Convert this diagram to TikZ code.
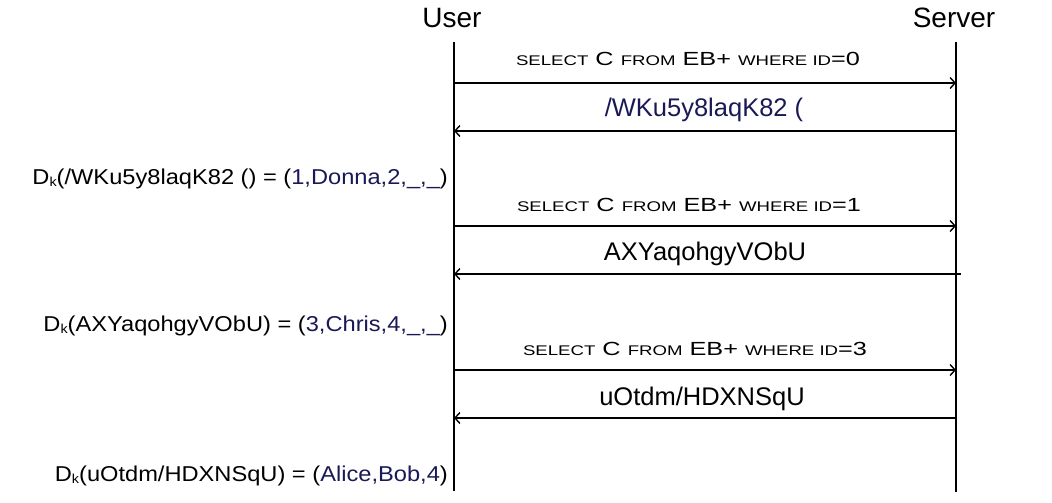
\documentclass[tikz,border=0pt]{standalone}
\usepackage{fontspec}
\usepackage{graphicx}
\setmainfont{Liberation Sans}
\usetikzlibrary{arrows.meta}
\definecolor{navy}{RGB}{25,25,85}
\newcommand\smc[1]{{\fontsize{14}{15}\selectfont #1}}
\newcommand\dk{D\raisebox{-0.25ex}{\fontsize{13}{13}\selectfont k}}
\newcommand\qry[1]{\scalebox{1.33}[1]{\smc{SELECT} C \smc{FROM} EB+ \smc{WHERE ID}=#1}}
\tikzset{
  actor/.style={font=\fontsize{28}{30}\selectfont, anchor=base, inner sep=0pt},
  life/.style={line width=2.4pt},
  msg/.style={line width=2pt, -{Straight Barb[length=5pt,width=11pt,line width=1.4pt]}},
  lbl/.style={font=\fontsize{19}{21}\selectfont, anchor=base, inner sep=0pt},
  reply/.style={font=\fontsize{25.5}{27}\selectfont, anchor=base, inner sep=0pt},
  dec/.style={font=\fontsize{21.5}{23}\selectfont, anchor=base east, inner sep=0pt},
}
\begin{document}
\begin{tikzpicture}[x=1pt,y=-1pt]
\useasboundingbox (0,0) rectangle (1052,503);
\node[actor] (user) at (452,28) {User};
\node[actor] (server) at (954,28) {Server};
\coordinate (ut) at (454,42); \coordinate (ub) at (454,491);
\coordinate (st) at (956,42); \coordinate (sb) at (956,492);
\draw[life] (ut) -- (ub);
\draw[life] (st) -- (sb);
% message endpoints
\coordinate (u1) at (454,83);  \coordinate (s1) at (956,83);
\coordinate (u2) at (454,131); \coordinate (s2) at (956,131);
\coordinate (u3) at (454,226); \coordinate (s3) at (956,226);
\coordinate (u4) at (454,274); \coordinate (s4) at (961,274);
\coordinate (u5) at (454,370); \coordinate (s5) at (956,370);
\coordinate (u6) at (454,418); \coordinate (s6) at (956,418);
\draw[msg] (u1) -- (s1);
\draw[msg] (s2) -- (u2);
\draw[msg] (u3) -- (s3);
\draw[msg] (s4) -- (u4);
\draw[msg] (u5) -- (s5);
\draw[msg] (s6) -- (u6);
% labels
\node[lbl] (l1) at (688,66) {\qry{0}};
\node[reply,text=navy] (l2) at (704,116) {/WKu5y8laqK82 (};
\node[lbl] (l3) at (689,211) {\qry{1}};
\node[reply] (l4) at (705,260) {AXYaqohgyVObU};
\node[lbl] (l5) at (695,355) {\qry{3}};
\node[reply] (l6) at (702,405) {uOtdm/HDXNSqU};
% decryptions
\node[dec] (d1) at (448,184) {\scalebox{1.1}[1]{\dk(/WKu5y8laqK82 () = (\textcolor{navy}{1,Donna,2,\_,\_})}};
\node[dec] (d2) at (448,331) {\scalebox{1.1}[1]{\dk(AXYaqohgyVObU) = (\textcolor{navy}{3,Chris,4,\_,\_})}};
\node[dec] (d3) at (448,481) {\scalebox{1.1}[1]{\dk(uOtdm/HDXNSqU) = (\textcolor{navy}{Alice,Bob,4})}};
\end{tikzpicture}
\end{document}
